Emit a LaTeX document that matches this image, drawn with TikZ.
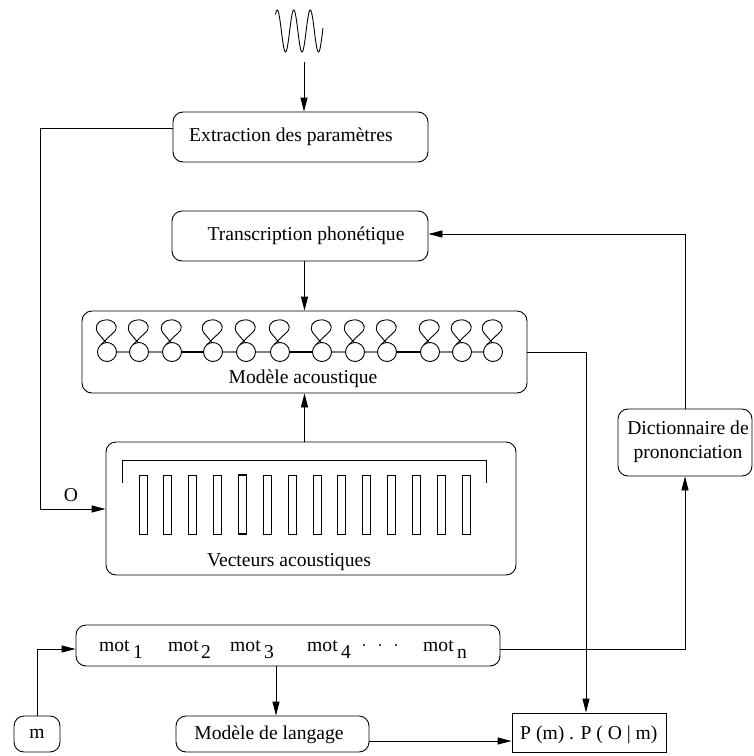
\documentclass[tikz,border=0pt]{standalone}
\usepackage{fontspec}
\setmainfont{Liberation Serif}
\usetikzlibrary{arrows.meta,calc}
\begin{document}
\begin{tikzpicture}[x=1pt,y=-1pt,
 box/.style={draw, rounded corners=10pt, inner sep=0pt, line width=0.9pt},
 sqbox/.style={draw, inner sep=0pt, line width=0.9pt},
 lbl/.style={inner sep=0pt, font=\fontsize{19.6}{23.5}\selectfont},
 arr/.style={line width=0.9pt, -{Triangle[length=14pt,width=7pt]}},
 conn/.style={line width=0.9pt},
 stnode/.style={draw, circle, fill=white, minimum size=19pt, inner sep=0pt, line width=0.9pt},
 bar/.style={draw, line width=0.9pt, minimum width=8pt, minimum height=59pt, inner sep=0pt},
]
\useasboundingbox (0,0) rectangle (754,756);

% signal
\draw[line width=0.9pt] plot[domain=275.5:323, samples=150, smooth] (\x, {31 + 21*cos(360*(\x-285.5)/16.5)});
\coordinate (wv) at (304,62);

% boxes
\node[box, minimum width=255pt, minimum height=50pt] (ext) at (300.5,137) {};
\node[lbl] (extt) at (291,137) {Extraction des paramètres};

\node[box, minimum width=256pt, minimum height=50pt] (trans) at (300,236) {};
\node[lbl] (transt) at (306,236) {Transcription phonétique};

\node[box, minimum width=445pt, minimum height=82pt] (acou) at (304.5,352) {};
\node[lbl] (acout) at (303,379) {Modèle acoustique};

\node[box, minimum width=410pt, minimum height=133pt] (vect) at (311,508.5) {};
\node[lbl] (vectt) at (289,562) {Vecteurs acoustiques};

\node[box, minimum width=134pt, minimum height=67pt] (dict) at (685,442.5) {};
\node[lbl, align=center] (dictt) at (688,442) {Dictionnaire de\\prononciation};

\node[box, minimum width=424pt, minimum height=41pt] (mot) at (288,645.5) {};
\node[box, minimum width=46pt, minimum height=36pt] (m) at (37,734) {};
\node[lbl] (mt) at (37,734) {m};
\node[box, minimum width=193pt, minimum height=36pt] (lang) at (272.5,734) {};
\node[lbl] (langt) at (269,735) {Modèle de langage};
\node[sqbox, minimum width=154pt, minimum height=39pt] (P) at (589,732.5) {};
\node[lbl, anchor=west] (Pt) at (520,735) {P (m) . P ( O | m)};

% words
\node[lbl, anchor=base west] (w1) at (99,651) {mot};
\node[lbl, anchor=base west] (w1s) at (133,658) {1};
\node[lbl, anchor=base west] (w2) at (168,651) {mot};
\node[lbl, anchor=base west] (w2s) at (201,658) {2};
\node[lbl, anchor=base west] (w3) at (230,651) {mot};
\node[lbl, anchor=base west] (w3s) at (264,658) {3};
\node[lbl, anchor=base west] (w4) at (307,651) {mot};
\node[lbl, anchor=base west] (w4s) at (341,658) {4};
\node[lbl, anchor=base west] (wn) at (423,651) {mot};
\node[lbl, anchor=base west] (wns) at (457,658) {n};
\foreach \dx in {364,380,396} \fill (\dx,645) circle (1.1pt);

% acoustic vectors
\draw[conn] (122,483) -- (122,460) -- (486,460) -- (486,483);
\foreach \i in {0,...,13} {
  \pgfmathsetmacro{\bx}{143+24.85*\i}
  \ifnum\i=4
    \node[bar, line width=1.4pt] (b\i) at (\bx,504.5) {};
  \else
    \node[bar] (b\i) at (\bx,504.5) {};
  \fi
}

% HMM states
\def\sy{352}
\draw[gray, line width=1.2pt] (107,\sy) -- (172,\sy);
\draw[black, line width=1.6pt] (172,\sy) -- (213,\sy);
\draw[gray, line width=1.2pt] (213,\sy) -- (280,\sy);
\draw[black, line width=1.6pt] (280,\sy) -- (322,\sy);
\draw[gray, line width=1.2pt] (322,\sy) -- (387,\sy);
\draw[black, line width=1.6pt] (387,\sy) -- (430,\sy);
\draw[gray, line width=1.2pt] (430,\sy) -- (493,\sy);
\foreach \cx [count=\k] in {107,139,172,213,246,280,322,355,387,430,462,493} {
  \node[stnode] (s\k) at (\cx,\sy) {};
  \draw[line width=0.9pt, shift={(\cx,\sy)}] (-6,-7.4) -- (8,-21) .. controls (12,-28) and (5,-33) .. (-2,-32) .. controls (-10,-31) and (-13,-25) .. (-9,-19) -- (-1,-9.5);
}

% connectors
\draw[arr] (wv) -- (wv |- ext.north);
\draw[arr] ([yshift=9pt]ext.west) -| (40,509) -- (vect.west |- 40,509);
\node[lbl] (olab) at (71,495) {O};
\draw[arr] (trans.south -| acou.north) -- (acou.north);
\draw[arr] (acou.south |- vect.north) -- (acou.south);
\draw[arr] (acou.east) -| (586,0 |- P.north);
\draw[arr] (dict.north) |- ([yshift=2pt]trans.east);
\draw[arr] ([yshift=-3.5pt]mot.east) -| (dict.south);
\draw[arr] (m.north) |- ([yshift=-3.5pt]mot.west);
\draw[arr] ([xshift=3.5pt]lang.north |- mot.south) -- ([xshift=3.5pt]lang.north);
\draw[arr] ([yshift=-7pt]lang.east) -- ([yshift=-7pt]lang.east -| P.west);
\end{tikzpicture}
\end{document}
